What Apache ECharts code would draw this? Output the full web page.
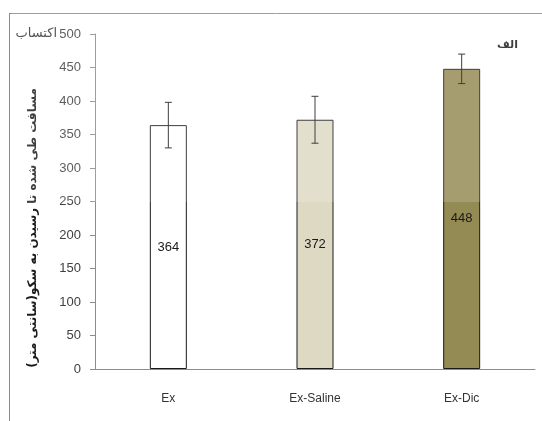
<!DOCTYPE html>
<html>
<head>
<meta charset="utf-8">
<style>
  html, body { margin: 0; padding: 0; background: #fff; }
  #chart { width: 542px; height: 421px; }
</style>
<script src="https://cdn.jsdelivr.net/npm/echarts@6/dist/echarts.min.js"></script>
</head>
<body>
<div id="chart"></div>
<script>
// Groups and their mean distance travelled (cm) with standard error
var categories = ['Ex', 'Ex-Saline', 'Ex-Dic'];
var means = [364, 372, 448];
var errors = [34, 35, 22];
var barColors = ['#ffffff', '#ddd9c3', '#948a54'];
var yTicks = { min: 0, max: 500, step: 50 };

var yTitle = 'مسافت طی شده تا رسیدن به سکو(سانتی متر)';
var cornerTitle = 'اکتساب';
var panelTag = 'الف';

var chart = echarts.init(document.getElementById('chart'), null, { renderer: 'canvas' });

var latin = '"Liberation Sans", Arial, sans-serif';
var arabic = '"DejaVu Sans", sans-serif';

var option = {
  animation: false,
  backgroundColor: '#ffffff',
  grid: { left: 95, right: 7, top: 34, bottom: 52, containLabel: false },
  xAxis: {
    type: 'category',
    data: categories,
    axisLine: { show: true, lineStyle: { color: '#8c8c8c', width: 1 } },
    axisTick: { show: false },
    axisLabel: { color: '#333333', fontFamily: latin, fontSize: 12, margin: 24 }
  },
  yAxis: {
    type: 'value',
    min: yTicks.min,
    max: yTicks.max,
    interval: yTicks.step,
    axisLine: { show: true, lineStyle: { color: '#8c8c8c', width: 1 } },
    axisTick: { show: true, inside: false, length: 5, lineStyle: { color: '#8c8c8c' } },
    splitLine: { show: false },
    axisLabel: { color: '#404040', fontFamily: latin, fontSize: 13, margin: 14 }
  },
  series: [
    {
      type: 'bar',
      data: means.map(function (v, i) {
        return { value: v, itemStyle: { color: barColors[i] } };
      }),
      barWidth: 37,
      itemStyle: { borderColor: '#1a1a1a', borderWidth: 1 },
      label: {
        show: true,
        position: 'inside',
        color: '#1a1a1a',
        fontFamily: latin,
        fontSize: 13
      },
      z: 2
    },
    {
      // error bars: vertical whisker with short caps
      type: 'custom',
      data: means.map(function (v, i) { return [i, v, errors[i]]; }),
      renderItem: function (params, api) {
        var i = api.value(0), m = api.value(1), e = api.value(2);
        var hi = api.coord([i, m + e]);
        var lo = api.coord([i, m - e]);
        var cap = 3.5;
        var st = { stroke: '#1a1a1a', lineWidth: 1 };
        return {
          type: 'group',
          children: [
            { type: 'line', shape: { x1: hi[0], y1: hi[1], x2: lo[0], y2: lo[1] }, style: st },
            { type: 'line', shape: { x1: hi[0] - cap, y1: hi[1], x2: hi[0] + cap, y2: hi[1] }, style: st },
            { type: 'line', shape: { x1: lo[0] - cap, y1: lo[1], x2: lo[0] + cap, y2: lo[1] }, style: st }
          ]
        };
      },
      z: 3
    }
  ],
  graphic: [
    // frame lines along the top and left
    { type: 'line', shape: { x1: 9, y1: 13.5, x2: 542, y2: 13.5 }, style: { stroke: '#8c8c8c', lineWidth: 1 }, z: 1 },
    { type: 'line', shape: { x1: 9.5, y1: 13, x2: 9.5, y2: 421 }, style: { stroke: '#8c8c8c', lineWidth: 1 }, z: 1 },
    {
      type: 'text',
      x: 57, y: 34,
      style: { text: cornerTitle, font: '13px ' + arabic, fill: '#333333', align: 'right', verticalAlign: 'middle' },
      z: 5
    },
    {
      type: 'text',
      x: 518, y: 45,
      style: { text: panelTag, font: 'bold 11px ' + arabic, fill: '#1a1a1a', align: 'right', verticalAlign: 'middle' },
      z: 5
    },
    {
      type: 'text',
      x: 33, y: 228,
      rotation: Math.PI / 2,
      style: { text: yTitle, font: 'bold 12px ' + arabic, fill: '#1a1a1a', align: 'center', verticalAlign: 'middle' },
      z: 5
    },
    // light haze over the upper part of the page
    {
      type: 'rect',
      shape: { x: 11, y: 0, width: 531, height: 202 },
      style: { fill: 'rgba(255,255,255,0.16)' },
      z: 10,
      silent: true
    }
  ]
};

chart.setOption(option);
</script>
</body>
</html>
